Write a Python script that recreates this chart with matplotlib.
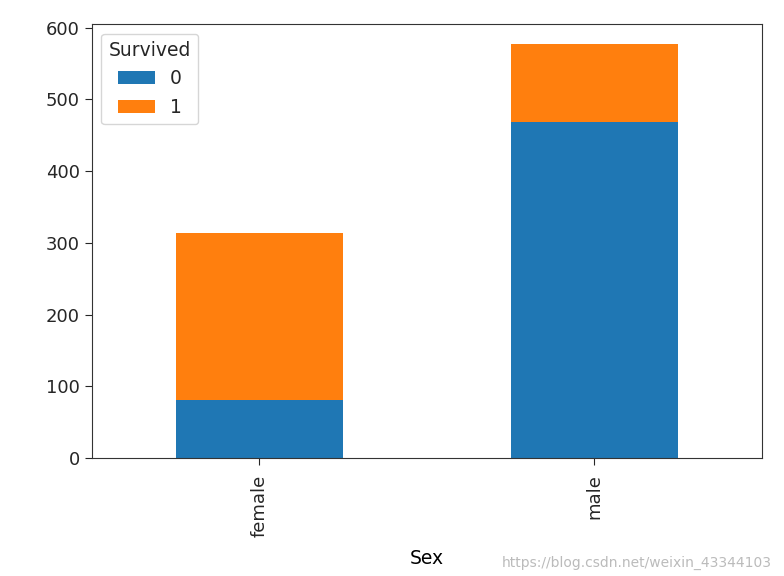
import matplotlib
matplotlib.use("Agg")
import matplotlib.pyplot as plt
import numpy as np

categories = ["female", "male"]
survived_0 = [81, 468]
survived_1 = [233, 109]
legend_title = "Survived"
series_labels = ["0", "1"]

plt.rcParams['font.family'] = ['DejaVu Sans']
plt.rcParams['text.color'] = '#262626'
plt.rcParams['xtick.color'] = '#262626'
plt.rcParams['ytick.color'] = '#262626'
plt.rcParams['axes.edgecolor'] = '#333333'
fig = plt.figure(figsize=(7.84, 5.76), dpi=100)
ax = fig.add_axes([0.117, 0.205, 0.855, 0.753])

x = np.arange(len(categories))
ax.bar(x, survived_0, width=0.5, color="#1f77b4", label=series_labels[0])
ax.bar(x, survived_1, width=0.5, bottom=survived_0, color="#ff7f0e", label=series_labels[1])
ax.set_xlim(-0.5, 1.5)
ax.set_ylim(0, 605)
ax.set_xticks(x)
ax.set_xticklabels(categories, rotation=90, fontsize=13)
ax.tick_params(axis='x', pad=7, length=5)
ax.tick_params(axis='y', labelsize=13, length=5)
ax.set_xlabel("Sex", fontsize=13.5, labelpad=9)
leg = ax.legend(title=legend_title, loc="upper left", fontsize=13.5, title_fontsize=13.5)

fig.text(0.985, 0.01, "https://blog.csdn.net/weixin_43344103", ha="right", va="bottom",
         fontsize=10, color="#bbbbbb")

fig.savefig("out.png", dpi=100)
